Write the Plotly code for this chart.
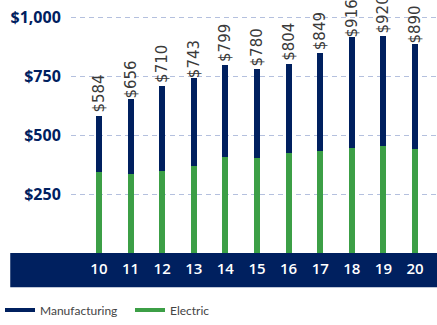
import plotly.graph_objects as go

years = [10, 11, 12, 13, 14, 15, 16, 17, 18, 19, 20]
totals = [584, 656, 710, 743, 799, 780, 804, 849, 916, 920, 890]
electric = [343, 337, 350, 371, 408, 404, 426, 435, 446, 454, 442]
manufacturing = [t - e for t, e in zip(totals, electric)]
total_labels = ["$" + str(t) for t in totals]
ytick_vals = [250, 500, 750, 1000]
ytick_text = ["$250", "$500", "$750", "$1,000"]

NAVY = "#00205f"
GREEN = "#3c9f46"

fig = go.Figure()
fig.add_trace(go.Bar(x=years, y=electric, marker_color=GREEN, marker_line_width=0,
                     showlegend=False, name="Electric"))
fig.add_trace(go.Bar(x=years, y=manufacturing, marker_color=NAVY, marker_line_width=0,
                     showlegend=False, name="Manufacturing",
                     text=total_labels, textposition="outside", textangle=-90,
                     textfont=dict(family="DejaVu Sans", size=15, color="#3a3a3a"),
                     cliponaxis=False, constraintext="none"))
# legend entries as wide line swatches
fig.add_trace(go.Scatter(x=[None], y=[None], mode="lines", name="Manufacturing",
                         line=dict(color=NAVY, width=4)))
fig.add_trace(go.Scatter(x=[None], y=[None], mode="lines", name="Electric",
                         line=dict(color=GREEN, width=4)))

fig.update_layout(
    width=437, height=325,
    margin=dict(l=70, r=0, t=0, b=67),
    barmode="stack", bargap=0.81,
    plot_bgcolor="white", paper_bgcolor="white",
    xaxis=dict(range=[9.117, 20.694], tickvals=years, ticktext=[str(y) for y in years],
               showgrid=False, zeroline=False, showline=False,
               ticks="outside", ticklen=2, tickcolor="rgba(0,0,0,0)",
               tickfont=dict(family="Open Sans", size=15, color="white", weight=600)),
    yaxis=dict(range=[0, 1075], tickvals=ytick_vals, ticktext=ytick_text,
               showgrid=True, gridcolor="#b4c0de", griddash="5px,4px", gridwidth=1,
               zeroline=False, showline=False,
               ticks="outside", ticklen=6, tickcolor="rgba(0,0,0,0)",
               tickfont=dict(family="Open Sans", size=16, color=NAVY, weight=700)),
    legend=dict(orientation="h", traceorder="normal",
                x=-0.194, xanchor="left", y=-0.225, yanchor="middle",
                font=dict(family="Lato", size=12, color="#444444"),
                entrywidth=85, entrywidthmode="pixels", bgcolor="rgba(0,0,0,0)"),
    shapes=[dict(type="rect", xref="paper", yref="paper", x0=-0.166, x1=1.0,
                 y0=-0.1357, y1=0, fillcolor=NAVY, line_width=0, layer="below")],
)

fig.write_html("out.html")
